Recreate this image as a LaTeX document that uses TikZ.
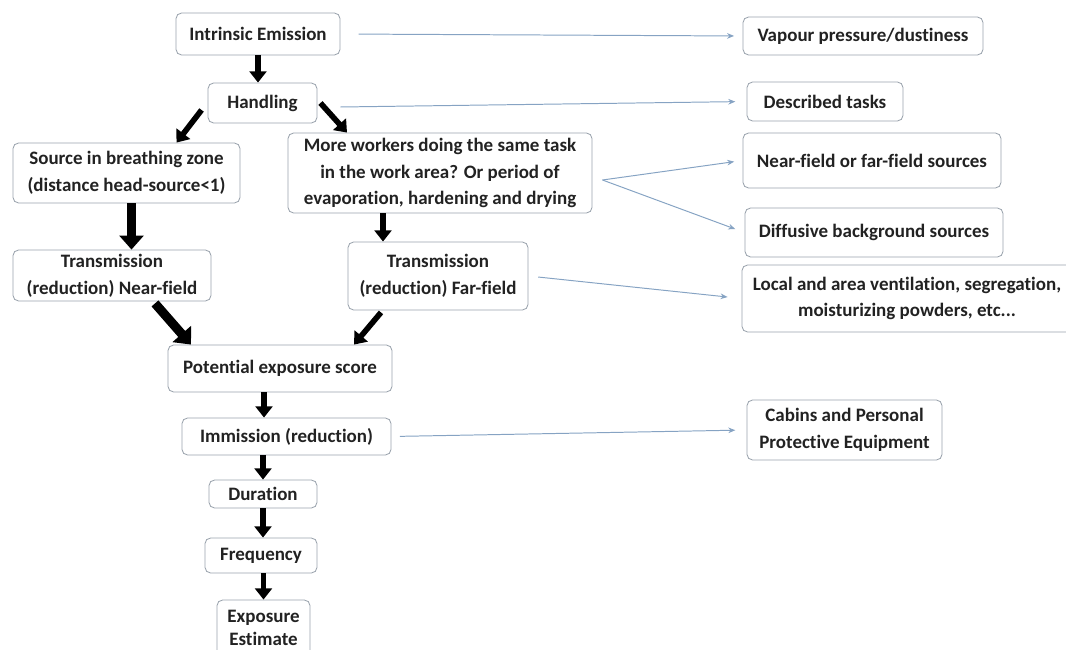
\documentclass[tikz,border=0pt]{standalone}
\usepackage{fontspec}
\setmainfont[Ligatures=CommonOff]{Carlito}
\usetikzlibrary{arrows.meta}

\definecolor{boxgray}{HTML}{9AA3AD}
\definecolor{linkblue}{HTML}{86A3C3}
\definecolor{txtgray}{HTML}{222222}

\tikzset{
  box/.style={draw=boxgray, fill=white, line width=0.6pt, rounded corners=4pt,
    align=center, inner sep=0pt, text=txtgray,
    font=\bfseries\fontsize{13.5}{19}\selectfont},
  flow/.style={line width=4pt, -{Triangle[length=8pt,width=12pt]}},
  bigflow/.style={line width=6.5pt, -{Triangle[length=10pt,width=17pt]}},
  link/.style={draw=linkblue, line width=0.7pt, -{Stealth[length=5pt,width=4pt]}}
}

\begin{document}
\begin{tikzpicture}[x=0.025cm, y=-0.025cm]

\useasboundingbox (0,0) rectangle (1066,650);

\node[box, minimum width=4.1cm, minimum height=1.05cm] (emis) at (258,34) {Intrinsic Emission};
\node[box, minimum width=2.725cm, minimum height=1cm] (hand) at (262.5,103) {Handling};
\node[box, minimum width=5.675cm, minimum height=1.5cm] (src) at (126.5,173) {Source in breathing zone\\(distance head-source<1)};
\node[box, minimum width=7.6cm, minimum height=2cm] (more) at (440,173) {More workers doing the same task\\in the work area? Or period of\\evaporation, hardening and drying};
\node[box, minimum width=4.95cm, minimum height=1.275cm] (tnf) at (112,275.5) {Transmission\\(reduction) Near-field};
\node[box, minimum width=4.5cm, minimum height=1.7cm] (tff) at (438,276) {Transmission\\(reduction) Far-field};
\node[box, minimum width=5.6cm, minimum height=1.175cm] (pes) at (280,368.5) {Potential exposure score};
\node[box, minimum width=5.225cm, minimum height=0.925cm] (imm) at (286.5,436.5) {Immission (reduction)};
\node[box, minimum width=2.7cm, minimum height=0.7cm] (dur) at (263,494) {Duration};
\node[box, minimum width=2.8cm, minimum height=0.875cm] (freq) at (261,555.5) {Frequency};
\node[box, minimum width=2.325cm, minimum height=1.4cm, font=\bfseries\fontsize{13.5}{16.5}\selectfont] (est) at (263.5,628) {Exposure\\Estimate};

\node[box, minimum width=6cm, minimum height=0.95cm] (vap) at (863,36) {Vapour pressure/dustiness};
\node[box, minimum width=3.9cm, minimum height=0.975cm] (task) at (825,101.5) {Described tasks};
\node[box, minimum width=6.45cm, minimum height=1.375cm] (nf) at (872,160.5) {Near-field or far-field sources};
\node[box, minimum width=6.45cm, minimum height=1.225cm] (diff) at (874,232.5) {Diffusive background sources};
\node[box, minimum width=8.25cm, minimum height=1.675cm] (loc) at (907,298.5) {Local and area ventilation, segregation,\\moisturizing powders, etc...};
\node[box, minimum width=4.875cm, minimum height=1.5cm] (cab) at (844.5,430) {Cabins and Personal\\Protective Equipment};

\draw[flow] (emis.south) -- (emis.south |- hand.north);
\draw[flow] ([shift={(-6,7)}]hand.west) -- ([shift={(50,0)}]src.north);
\draw[flow] ([shift={(3,0)}]hand.east) -- ([shift={(-93,0)}]more.north);
\draw[bigflow] ([shift={(5,0)}]src.south) -- ([shift={(5,0)}]src.south |- tnf.north);
\draw[flow] ([shift={(-57,0)}]more.south) -- ([shift={(-57,0)}]more.south |- tff.north);
\draw[bigflow] ([shift={(43,2)}]tnf.south) -- ([shift={(-89,0)}]pes.north);
\draw[flow] ([shift={(-57,2)}]tff.south) -- ([shift={(74,0)}]pes.north);
\draw[flow] ([shift={(-16,0)}]pes.south) -- ([shift={(-16,0)}]pes.south |- imm.north);
\draw[flow] (dur.north |- imm.south) -- (dur.north);
\draw[flow] (dur.south) -- (dur.south |- freq.north);
\draw[flow] (est.north |- freq.south) -- (est.north);

\coordinate (fork) at ([shift={(10,7)}]more.east);
\draw[link, shorten <=13pt, shorten >=6pt] (emis.east) -- (vap.west);
\draw[link, shorten >=8pt] ([shift={(23,4)}]hand.east) -- (task.west);
\draw[link, shorten >=6pt] (fork) -- (nf.west);
\draw[link, shorten >=7pt] (fork) -- (diff.west);
\draw[link, shorten <=7pt, shorten >=10pt] (tff.east) -- (loc.west);
\draw[link, shorten <=6pt, shorten >=8pt] (imm.east) -- (cab.west);

\end{tikzpicture}
\end{document}
